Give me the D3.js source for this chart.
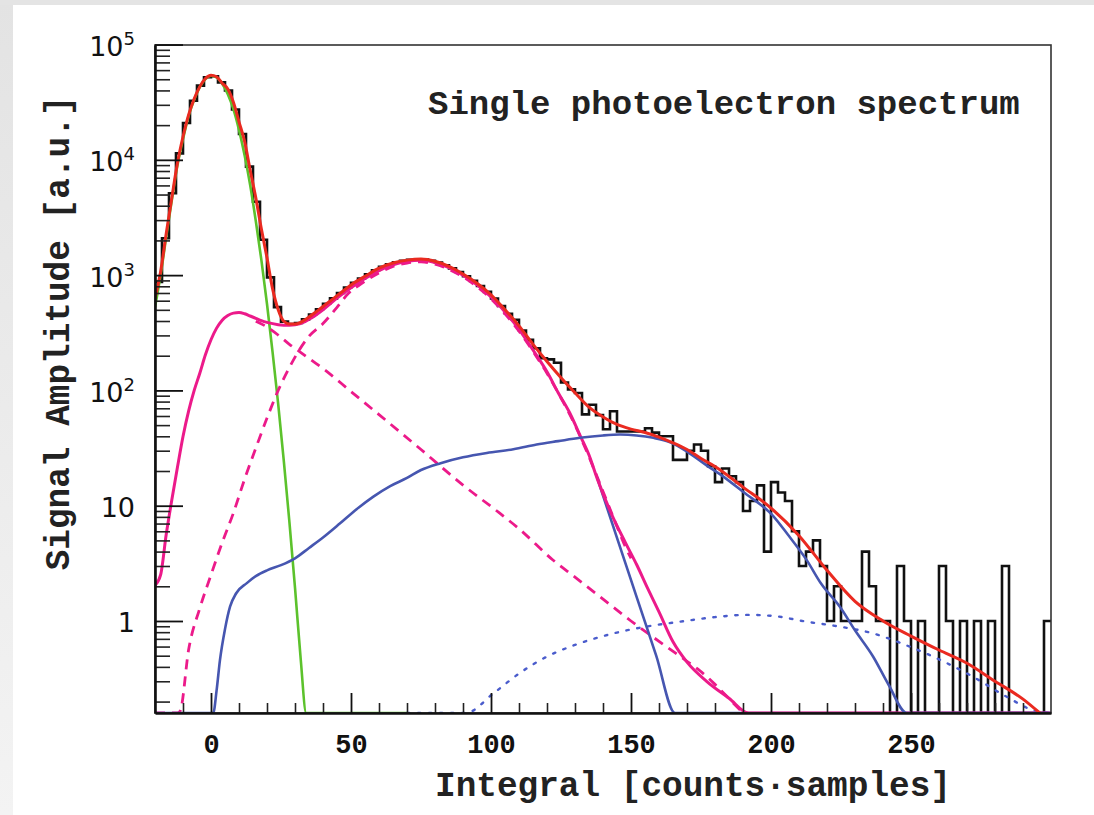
<!DOCTYPE html>
<html>
<head>
<meta charset="utf-8">
<script src="https://cdn.jsdelivr.net/npm/d3@7/dist/d3.min.js"></script>
<style>
body { margin: 0; background: #fff; }
svg { display: block; }
</style>
</head>
<body>
<div id="chart"></div>
<script>

// data START

// histogram: equal width bins between the two edges
var histRange = [-20, 300];
var histCounts = [
    871, 2090, 5130, 11380, 20840, 32550, 44050, 52000, 53100, 46990,
    39900, 27300, 16750, 8730, 4330, 2025, 957, 528, 395, 376,
    384, 413, 456, 506, 564, 628, 700, 779, 859, 935,
    1017, 1103, 1178, 1241, 1291, 1330, 1357, 1372, 1365, 1334,
    1285, 1219, 1145, 1062, 977, 891, 804, 716, 627, 540,
    462, 410, 331, 275, 232, 190, 186, 174, 117, 102,
    95, 62, 75, 61, 46, 66, 44, 44, 44, 44,
    47, 43, 40, 40, 25, 25, 30, 34, 30, 22,
    16, 21, 18, 16, 9, 11, 15, 4, 16, 13,
    11, 6, 3, 4, 5, 3, 1, 2, 1, 1,
    1, 4, 2, 1, 1, 0, 3, 1, 0, 1,
    0, 0, 3, 1, 0, 1, 0, 1, 0, 1,
    0, 3, 0, 0, 0, 0, 0, 1
];

// total fit (red)
var fitTotal = [
    [-20, 631], [-18, 1072], [-16, 2291], [-14, 4677], [-12, 9333], [-10, 15849],
    [-8, 24547], [-6, 33884], [-4, 43152], [-2, 50699], [0, 54075], [2, 52481],
    [4, 46238], [6, 41210], [8, 31623], [10, 21380], [12, 14454], [14, 8128],
    [16, 4677], [18, 2512], [20, 1413], [22, 759], [24, 501], [26, 398],
    [28, 376], [30, 376], [32, 389], [34, 417], [38, 490], [42, 582], [46, 692],
    [50, 822], [55, 977], [60, 1148], [65, 1274], [70, 1349], [75, 1380],
    [80, 1318], [85, 1189], [90, 1023], [95, 851], [100, 676], [105, 501],
    [110, 363], [115, 251], [120, 178], [125, 129], [130, 95.5], [135, 71.6],
    [140, 58.9], [145, 50.7], [150, 46.2], [155, 43.2], [160, 39.4], [165, 35.1],
    [170, 30.7], [175, 25.7], [180, 21.9], [190, 14.5], [200, 9.55], [210, 5.5],
    [220, 2.75], [230, 1.48], [240, 1.0], [250, 0.74], [260, 0.56], [270, 0.43],
    [280, 0.30], [290, 0.21], [296, 0.158]
];

// pedestal (green)
var pedestal = [
    [-20, 525], [-18, 1000], [-16, 2138], [-14, 4467], [-12, 8913], [-10, 15136],
    [-8, 23988], [-6, 33113], [-4, 42658], [-2, 50119], [0, 53703], [2, 51880],
    [4, 45709], [6, 37154], [8, 27542], [10, 18197], [12, 10965], [14, 6026],
    [16, 2951], [18, 1349], [20, 562], [22, 214], [24, 75.9], [26, 24.5],
    [28, 7.24], [30, 1.95], [32, 0.48], [34, 0.107], [36, 0.02], [40, 0.01], [70, 0.01]
];

// single photoelectron, sum (magenta solid)
var onePe = [
    [-20, 2.04], [-18, 2.51], [-16, 5.62], [-14, 11.2], [-12, 21.4], [-10, 39.8],
    [-8, 66.1], [-6, 100], [-4, 141], [-2, 204], [0, 275], [2, 347], [4, 407],
    [6, 447], [8, 468], [10, 473], [12, 462], [14, 442], [16, 422], [18, 403],
    [20, 389], [24, 372], [28, 367], [32, 380], [36, 427], [40, 501], [45, 631],
    [50, 776], [55, 933], [60, 1096], [65, 1230], [70, 1318], [75, 1349],
    [80, 1288], [85, 1161], [90, 1000], [95, 822], [100, 646], [105, 479],
    [110, 339], [115, 224], [120, 145], [124, 95.5], [128, 64.6], [132, 39.8],
    [135, 27.5], [138, 17.0], [143, 8.51], [148, 4.79], [152, 3.09], [156, 1.91],
    [160, 1.20], [165, 0.66], [170, 0.44], [177, 0.30], [185, 0.214], [192, 0.158],
    [196, 0.1], [200, 0.05], [300, 0.05]
];

// single photoelectron gaussian part (magenta dashed)
var onePeGauss = [
    [-20, 0.01], [-12, 0.126], [-11, 0.166], [-8, 0.562], [-4, 1.29], [0, 2.51],
    [4, 4.79], [8, 8.65], [12, 17.0], [16, 31.6], [20, 57.5], [24, 100], [28, 158],
    [31, 214], [35, 295], [40, 380], [45, 525], [49, 692], [54, 851], [60, 1047],
    [65, 1189], [70, 1274], [75, 1303], [80, 1245], [85, 1122], [90, 966], [95, 794],
    [100, 624], [105, 462], [110, 327], [115, 218], [120, 141], [125, 86],
    [130, 50], [135, 26.5], [140, 13.3], [145, 6.6], [148, 4.4], [150, 3.5]
];

// single photoelectron exponential part (magenta dashed)
var onePeExp = [
    [16, 398], [20, 355], [24, 302], [28, 251], [32, 214], [36, 182], [40, 155],
    [50, 97.7], [60, 61.7], [75, 30.7], [90, 15.1], [103, 8.65], [110, 6.31],
    [122, 3.40], [130, 2.40], [139, 1.62], [150, 1.0], [161, 0.64], [170, 0.447],
    [174, 0.38], [180, 0.282], [186, 0.2], [190, 0.151]
];

// two photoelectrons (blue solid)
var twoPe = [
    [-20, 0.01], [0.5, 0.01], [0.8, 0.158], [2, 0.25], [3.2, 0.458], [5, 0.85],
    [6.8, 1.33], [9, 1.74], [12.8, 2.13], [16, 2.45], [20, 2.75], [25, 3.05],
    [30, 3.5], [35, 4.3], [40, 5.3], [46, 7.0], [52, 9.33],
    [58, 12.0], [64, 14.8], [70, 17.4], [75, 20.4], [82, 23.4], [90, 26.3],
    [98.5, 28.7], [108, 30.9], [116.3, 33.9], [124, 36.3], [131.8, 38.8],
    [140, 40.7], [146.1, 41.4], [152, 40.7], [158, 38.8], [164, 35.5], [170, 29.5],
    [177, 22.4], [182, 18.6], [190, 13.2], [200.8, 8.13], [206, 5.62],
    [212.7, 3.39], [218, 2.09], [224.6, 1.33], [230, 0.83], [236.5, 0.49],
    [242, 0.28], [248.5, 0.158], [252, 0.1], [300, 0.01]
];

// two photoelectrons, steep part (blue solid)
var twoPeEdge = [
    [137.9, 17.5], [145, 5.25], [152, 1.62], [159, 0.50], [165.7, 0.158],
    [168, 0.05], [300, 0.05]
];

// three photoelectrons (blue dotted)
var threePe = [
    [70, 0.01], [88, 0.12], [91.3, 0.16], [100.8, 0.235], [110, 0.35],
    [119.9, 0.49], [130, 0.62], [143.7, 0.78], [155, 0.89], [167.5, 0.986],
    [180, 1.08], [191, 1.13], [200, 1.11], [212.7, 0.986], [225, 0.89],
    [236.5, 0.78], [248, 0.62], [260.4, 0.46], [272, 0.33], [284.2, 0.22],
    [293.7, 0.168], [300, 0.13]
];

var xTicksMajor = [0, 50, 100, 150, 200, 250];
var yTicksMajor = [1, 10, 100, 1000, 10000, 100000];
var yTickBase = ["1", "10", "10", "10", "10", "10"];
var yTickExp = ["", "", "2", "3", "4", "5"];

var titleText = "Single photoelectron spectrum";
var xLabel = "Integral [counts\u00b7samples]";
var yLabel = "Signal Amplitude [a.u.]";

// data END

var width = 1094, height = 815;
var plotLeft = 155, plotRight = 1051, plotTop = 45, plotBottom = 713;
var yMin = 0.1592, yMax = 99100;
var monoFont = "'Liberation Mono', 'Courier New', monospace";
var sansFont = "'DejaVu Sans', sans-serif";

var svg = d3.select("#chart").append("svg")
    .attr("width", width)
    .attr("height", height);

// grey strips at the top and left edge of the picture
var grad = svg.append("defs").append("linearGradient")
    .attr("id", "edge").attr("x1", 0).attr("y1", 0).attr("x2", 0).attr("y2", 1);
grad.append("stop").attr("offset", "0%").attr("stop-color", "#e3e3e3");
grad.append("stop").attr("offset", "100%").attr("stop-color", "#f3f3f3");
svg.append("rect").attr("width", width).attr("height", height).attr("fill", "url(#edge)");
svg.append("rect").attr("width", width).attr("height", 5).attr("fill", "#e4e4e4");
svg.append("rect").attr("x", 13).attr("y", 5)
    .attr("width", width - 13).attr("height", height - 5).attr("fill", "#fff");

svg.select("defs").append("clipPath").attr("id", "frame")
    .append("rect")
    .attr("x", plotLeft).attr("y", plotTop)
    .attr("width", plotRight - plotLeft).attr("height", plotBottom - plotTop);

var x = d3.scaleLinear().domain(histRange).range([plotLeft, plotRight]);
var y = d3.scaleLog().domain([yMin, yMax]).range([plotBottom, plotTop]);

function yv(v) {
    return y(Math.max(v, yMin));
}

var plot = svg.append("g").attr("clip-path", "url(#frame)");

// histogram outline
var binWidth = (histRange[1] - histRange[0]) / histCounts.length;
var steps = histCounts.map(function(c, i) { return [histRange[0] + i * binWidth, c]; });
steps.push([histRange[1], histCounts[histCounts.length - 1]]);

plot.append("path")
    .datum(steps)
    .attr("fill", "none")
    .attr("stroke", "#111")
    .attr("stroke-width", 2.6)
    .attr("d", d3.line()
        .x(function(d) { return x(d[0]); })
        .y(function(d) { return yv(d[1]); })
        .curve(d3.curveStepAfter));

var line = d3.line()
    .x(function(d) { return x(d[0]); })
    .y(function(d) { return yv(d[1]); })
    .curve(d3.curveMonotoneX);

function drawCurve(data, color, w, dash) {
    var p = plot.append("path")
        .datum(data)
        .attr("fill", "none")
        .attr("stroke", color)
        .attr("stroke-width", w)
        .attr("stroke-linejoin", "round")
        .attr("d", line);
    if (dash) {
        p.attr("stroke-dasharray", dash);
    }
    return p;
}

drawCurve(pedestal, "#5cc22c", 2.6);
drawCurve(threePe, "#4a5ccc", 2.4, "2.4,8.6").attr("stroke-linecap", "round");
drawCurve(onePeGauss, "#ec1a8a", 2.8, "10,7");
drawCurve(onePeExp, "#ec1a8a", 2.8, "10,7");
drawCurve(twoPeEdge, "#4656b0", 2.6);
drawCurve(onePe, "#ec1a8a", 3);
drawCurve(twoPe, "#4656b0", 2.6);
drawCurve(fitTotal, "#ea2a20", 3);

// frame
svg.append("rect")
    .attr("x", plotLeft).attr("y", plotTop)
    .attr("width", plotRight - plotLeft).attr("height", plotBottom - plotTop)
    .attr("fill", "none")
    .attr("stroke", "#333")
    .attr("stroke-width", 1.6);

// y axis: minor ticks first, then majors with labels
var yMinor = [];
[0.1, 1, 10, 100, 1000, 10000].forEach(function(dec) {
    for (var m = 2; m <= 9; m++) {
        if (dec * m > yMin && dec * m < yMax) yMinor.push(dec * m);
    }
});

svg.append("g")
    .attr("transform", "translate(" + plotLeft + ",0)")
    .call(d3.axisLeft(y).tickValues(yMinor).tickSize(-15).tickSizeOuter(0).tickFormat(""))
    .call(function(g) { g.select(".domain").remove(); })
    .selectAll("line").attr("stroke", "#222").attr("stroke-width", 1.6);

var yAxis = svg.append("g")
    .attr("transform", "translate(" + plotLeft + ",0)")
    .call(d3.axisLeft(y).tickValues(yTicksMajor).tickSize(-28).tickSizeOuter(0).tickPadding(20).tickFormat(""));
yAxis.select(".domain").attr("stroke", "#111").attr("stroke-width", 2.6);
yAxis.selectAll("line").attr("stroke", "#111").attr("stroke-width", 1.8);
yAxis.selectAll("text")
    .attr("font-family", sansFont)
    .attr("font-size", 27)
    .attr("fill", "#111")
    .attr("dy", 0)
    .attr("y", 11)
    .each(function(d, i) {
        var t = d3.select(this);
        t.append("tspan").text(yTickBase[i]);
        if (yTickExp[i]) {
            t.append("tspan").attr("dy", -11).attr("font-size", 18).text(yTickExp[i]);
        }
    });

// x axis
var xMinor = d3.range(-10, 300, 10).filter(function(v) { return v % 50 !== 0; });

svg.append("g")
    .attr("transform", "translate(0," + plotBottom + ")")
    .call(d3.axisBottom(x).tickValues(xMinor).tickSize(-10).tickSizeOuter(0).tickFormat(""))
    .call(function(g) { g.select(".domain").remove(); })
    .selectAll("line").attr("stroke", "#222").attr("stroke-width", 1.6);

var xAxis = svg.append("g")
    .attr("transform", "translate(0," + plotBottom + ")")
    .call(d3.axisBottom(x).tickValues(xTicksMajor).tickSize(-20).tickSizeOuter(0).tickFormat(d3.format("d")));
xAxis.select(".domain").attr("stroke", "#111").attr("stroke-width", 2.4);
xAxis.selectAll("line").attr("stroke", "#111").attr("stroke-width", 1.8);
xAxis.selectAll("text")
    .attr("font-family", monoFont)
    .attr("font-weight", "bold")
    .attr("font-size", 27)
    .attr("fill", "#111")
    .attr("dy", 0)
    .attr("y", 40);

// titles
svg.append("text")
    .attr("x", 428).attr("y", 114)
    .attr("font-family", monoFont).attr("font-weight", "bold")
    .attr("font-size", 34).attr("fill", "#222")
    .text(titleText);

svg.append("text")
    .attr("x", 435).attr("y", 796)
    .attr("font-family", monoFont).attr("font-weight", "bold")
    .attr("font-size", 34.4).attr("fill", "#222")
    .text(xLabel);

svg.append("text")
    .attr("transform", "translate(69,333) rotate(-90)")
    .attr("text-anchor", "middle")
    .attr("font-family", monoFont).attr("font-weight", "bold")
    .attr("font-size", 34.4).attr("fill", "#222")
    .text(yLabel);

</script>
</body>
</html>
